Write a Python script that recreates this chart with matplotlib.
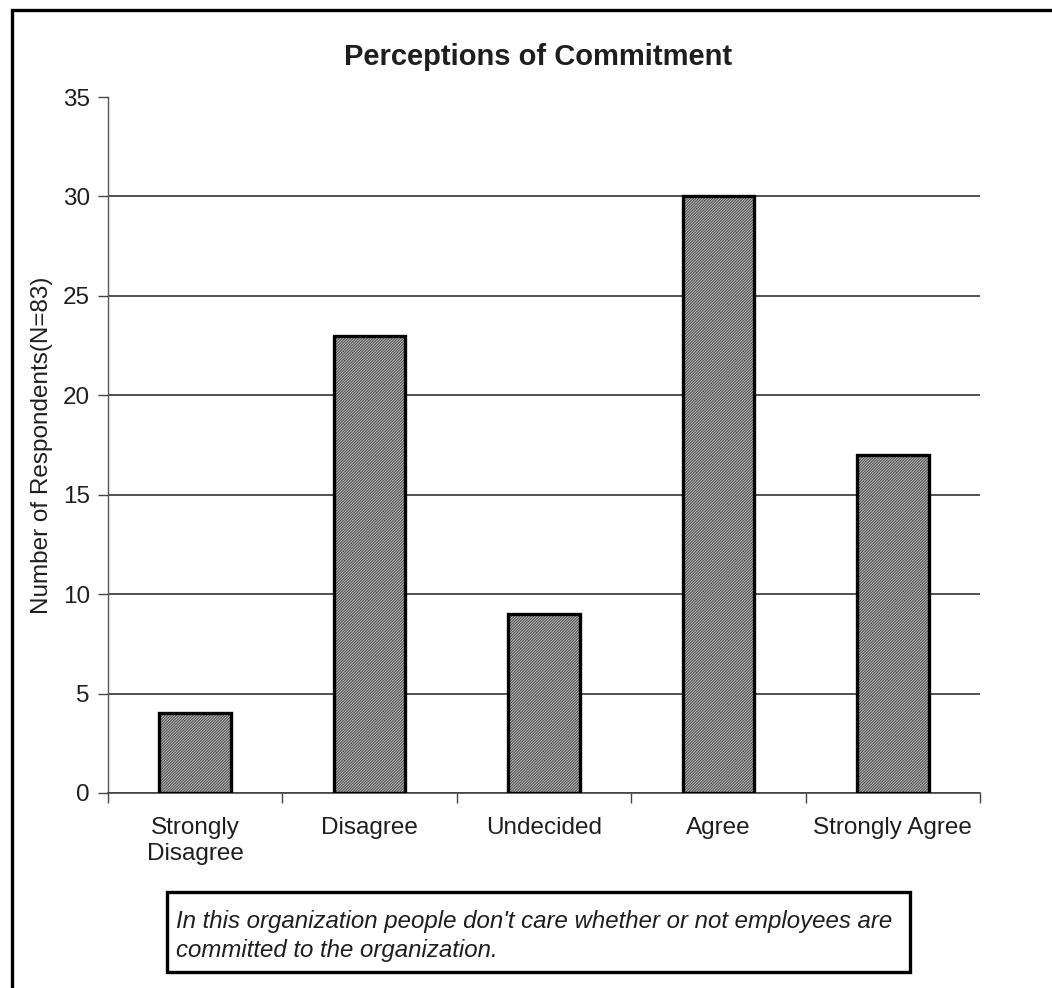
import matplotlib
matplotlib.use("Agg")
from matplotlib import pyplot as plt
from matplotlib.patches import Rectangle

# survey answers and respondent counts
categories = ["Strongly\nDisagree", "Disagree", "Undecided", "Agree", "Strongly Agree"]
counts = [4, 23, 9, 30, 17]
y_ticks = [0, 5, 10, 15, 20, 25, 30, 35]

plt.rcParams['font.family'] = ['Liberation Sans', 'DejaVu Sans']
plt.rcParams['hatch.linewidth'] = 0.9

fig = plt.figure(figsize=(10.52, 9.88), dpi=100)
ax = fig.add_axes([0.1027, 0.1974, 0.8289, 0.7044])

text_color = '#1e1e1e'
x = list(range(len(categories)))

# hatched grey fill, then a heavy black outline on top
ax.bar(x, counts, width=0.41, color='#d4d4d4', edgecolor='#555555',
       hatch='/' * 12, linewidth=0, zorder=3)
ax.bar(x, counts, width=0.41, fill=False, edgecolor='black',
       linewidth=2.4, zorder=4)

ax.set_xlim(-0.5, len(categories) - 0.5)
ax.set_ylim(0, 35)
ax.set_yticks(y_ticks)
ax.set_yticklabels([str(v) for v in y_ticks], fontsize=17.5, color=text_color)

# category names sit between the tick marks
ax.set_xticks([i - 0.5 for i in range(len(categories) + 1)])
ax.set_xticklabels([])
ax.set_xticks(x, minor=True)
ax.set_xticklabels(categories, minor=True, fontsize=17.5, color=text_color,
                   linespacing=1.25)
ax.tick_params(axis='x', which='minor', length=0, pad=17)
ax.tick_params(axis='x', which='major', length=7, width=1.0, color='#444444', direction='out')
ax.tick_params(axis='y', length=7, width=1.0, color='#444444', direction='out', pad=6)

ax.yaxis.grid(True, color='#222222', linewidth=1.1, zorder=1)
ax.set_axisbelow(True)
ax.get_ygridlines()[-1].set_visible(False)

for side in ['top', 'right']:
    ax.spines[side].set_visible(False)
ax.spines['left'].set_color('#555555')
ax.spines['bottom'].set_color('#444444')
ax.spines['left'].set_linewidth(1.0)
ax.spines['bottom'].set_linewidth(1.2)

ax.set_ylabel("Number of Respondents(N=83)", fontsize=17.5, color=text_color, labelpad=7)
fig.text(0.5114, 0.942, "Perceptions of Commitment", fontsize=21, fontweight='bold',
         color=text_color, ha='center', va='center')

# question text in a framed box under the chart
fig.patches.append(Rectangle((167 / 1052, 1 - 972 / 988), (910 - 167) / 1052, (972 - 892) / 988,
                             transform=fig.transFigure, fill=False, edgecolor='black',
                             linewidth=2.4))
fig.text(176 / 1052, 1 - 936 / 988,
         "In this organization people don't care whether or not employees are\n"
         "committed to the organization.",
         fontsize=17.3, style='italic', color=text_color, ha='left', va='center',
         linespacing=1.35)

# outer frame running off the right and bottom edges
fig.patches.append(Rectangle((12 / 1052, -0.05), 1.2, 1.05 - 10 / 988,
                             transform=fig.transFigure, fill=False, edgecolor='black',
                             linewidth=2.4))

plt.savefig("out.png", dpi=100)
